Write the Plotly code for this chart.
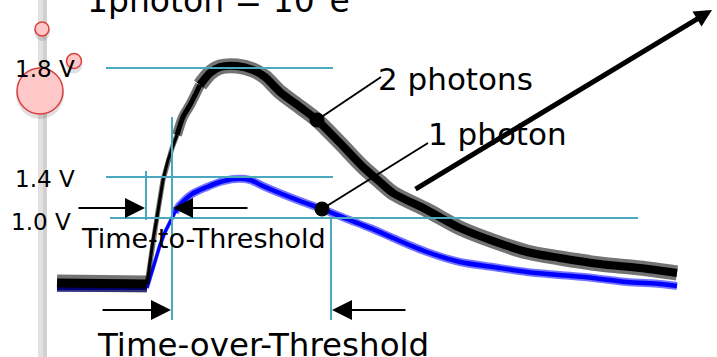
import plotly.graph_objects as go

# ---- data (time in ns, amplitude in a.u.) ----
black_t = [0, 43, 90, 93, 96, 100, 106, 111, 115, 120, 126, 133, 143, 153, 163, 180, 196, 208,
           223, 243, 260, 283, 306, 323, 336, 370, 403, 436, 470, 503, 543, 583, 620]
black_v = [0, 0, -1, 21, 43, 66, 103, 123, 135, 148, 166, 178, 198, 210, 216, 217, 213, 206,
           191, 176, 163, 140, 116, 101, 90, 73, 55, 42, 31, 25, 19, 15, 10]
blue_t = [0, 45, 90, 93, 98, 103, 108, 113, 118, 123, 135, 150, 163, 178, 193, 206, 220, 243,
          265, 290, 313, 336, 370, 403, 436, 470, 503, 536, 570, 603, 620]
blue_v = [-5, -5, -5, 5, 21, 38, 51, 61, 71, 78, 89, 96, 101, 104, 103, 97, 91, 82,
          74, 64, 55, 45, 31, 21, 16, 11, 8, 5, 1, -1, -3]

thr_labels = ["1.8 V", "1.4 V", "1.0 V"]
thr_levels = [215, 106, 65]

series_labels = ["2 photons", "1 photon"]
dot_index = [20, 18]  # sample where the label pointer touches each trace

TEAL = "#4aa8bf"
FONT = "DejaVu Sans"

fig = go.Figure()


def seg(t, v, lo, hi):
    pts = [(a, b) for a, b in zip(t, v) if lo <= a <= hi]
    return [p[0] for p in pts], [p[1] for p in pts]


def band(t, v, pieces, rgb, alpha):
    # noisy trace: translucent outer envelope + solid core
    for lo, hi, w_out, w_core, shp in pieces:
        xs, ys = seg(t, v, lo, hi)
        fig.add_trace(go.Scatter(x=xs, y=ys, mode="lines",
                                 line=dict(color=f"rgba({rgb},{alpha})", width=w_out, shape=shp, smoothing=0.8),
                                 hoverinfo="skip"))
    for lo, hi, w_out, w_core, shp in pieces:
        xs, ys = seg(t, v, lo, hi)
        fig.add_trace(go.Scatter(x=xs, y=ys, mode="lines",
                                 line=dict(color=f"rgb({rgb})", width=w_core, shape=shp, smoothing=0.8),
                                 hoverinfo="skip"))


# blue trace (1 photon) drawn first
band(blue_t, blue_v, [(0, 90, 8, 4, "linear"), (90, 118, 4, 3, "linear"),
                      (118, 620, 8, 4.5, "spline")], "0,0,255", 0.55)
# black trace (2 photons)
band(black_t, black_v, [(0, 90, 17, 9, "linear"), (90, 120, 5, 3, "linear"),
                        (120, 143, 10, 5, "spline"), (143, 620, 15, 8, "spline")], "0,0,0", 0.55)

# threshold lines
thr_span = [(49, 276), (49, 276), (53, 581)]
for lvl, (x0, x1) in zip(thr_levels, thr_span):
    fig.add_shape(type="line", xref="x", yref="y", x0=x0, x1=x1, y0=lvl, y1=lvl,
                  line=dict(color=TEAL, width=2), layer="above")
# vertical markers
for x, y0, y1 in [(89, 63, 112), (115, -37, 166), (274, -37, 65)]:
    fig.add_shape(type="line", xref="x", yref="y", x0=x, x1=x, y0=y0, y1=y1,
                  line=dict(color=TEAL, width=2), layer="above")

# label pointers + dots
ptr_end = [(324, 206), (371, 140)]
traces = [(black_t, black_v), (blue_t, blue_v)]
for (t, v), i, (ex, ey) in zip(traces, dot_index, ptr_end):
    fig.add_trace(go.Scatter(x=[t[i], ex], y=[v[i], ey], mode="lines",
                             line=dict(color="black", width=2), hoverinfo="skip"))
    fig.add_trace(go.Scatter(x=[t[i]], y=[v[i]], mode="markers",
                             marker=dict(color="black", size=15), hoverinfo="skip"))

# left slide-edge strip and decorative circles
fig.add_shape(type="rect", xref="x", yref="y", x0=-19, x1=-10, y0=-80, y1=290,
              fillcolor="#e3e1df", line=dict(width=0), layer="below")
fig.add_shape(type="rect", xref="x", yref="y", x0=-14, x1=-10, y0=-80, y1=290,
              fillcolor="#d3d1cf", line=dict(width=0), layer="below")
for cx, cy, r in [(-15, 254, 7), (17, 222, 7.5), (-17, 192, 23)]:
    fig.add_shape(type="circle", xref="x", yref="y", x0=cx - r - 1, x1=cx + r + 1,
                  y0=cy - r - 5, y1=cy + r - 1, fillcolor="rgba(0,0,0,0.12)",
                  line=dict(width=0), layer="below")
    fig.add_shape(type="circle", xref="x", yref="y", x0=cx - r, x1=cx + r,
                  y0=cy - r, y1=cy + r, fillcolor="#ffc8c8",
                  line=dict(color="#d8403e", width=1.5), layer="below")

ann = []
# arrows
for (hx, hy), (tx, ty) in [((88, 75), (20, 75)), ((116, 75), (192, 75)),
                           ((114, -27), (44, -27)), ((275, -27), (350, -27))]:
    ann.append(dict(x=hx, y=hy, ax=tx, ay=ty, xref="x", yref="y", axref="x", ayref="y",
                    text="", showarrow=True, arrowhead=2, arrowsize=2, arrowwidth=2,
                    arrowcolor="black"))
ann.append(dict(x=655, y=273, ax=357, ay=93, xref="x", yref="y", axref="x", ayref="y",
                text="", showarrow=True, arrowhead=2, arrowsize=0.7, arrowwidth=5,
                arrowcolor="black"))

# threshold value labels
for lab, lvl, xl in zip(thr_labels, [214, 104.5, 61], [-44, -44, -48]):
    ann.append(dict(x=xl, y=lvl, xref="x", yref="y", text=lab, showarrow=False,
                    xanchor="left", yanchor="middle", font=dict(family=FONT, size=23, color="black")))

# series labels
for lab, (x, y) in zip(series_labels, [(319, 204.5), (369, 149.5)]):
    ann.append(dict(x=x, y=y, xref="x", yref="y", text=lab, showarrow=False,
                    xanchor="left", yanchor="middle", font=dict(family=FONT, size=31, color="black")))

ann.append(dict(x=22, y=45, xref="x", yref="y", text="Time-to-Threshold", showarrow=False,
                xanchor="left", yanchor="middle", font=dict(family=FONT, size=27, color="black")))
ann.append(dict(x=38, y=-62, xref="x", yref="y", text="Time-over-Threshold", showarrow=False,
                xanchor="left", yanchor="middle", font=dict(family=FONT, size=32.5, color="black")))
ann.append(dict(x=28, y=1, xref="x", yref="paper", yshift=2, text="1photon = 10<sup>6</sup>e",
                showarrow=False, xanchor="left", yanchor="middle",
                font=dict(family=FONT, size=33, color="black")))

fig.update_layout(
    width=717, height=357, margin=dict(l=0, r=0, t=0, b=0),
    paper_bgcolor="white", plot_bgcolor="white", showlegend=False,
    xaxis=dict(range=[-57, 660], visible=False, fixedrange=True),
    yaxis=dict(range=[-74, 283], visible=False, fixedrange=True),
    annotations=ann,
)

fig.write_html("out.html", config={"displayModeBar": False},
               post_script="document.body.style.margin='0';document.body.style.overflow='hidden';")
